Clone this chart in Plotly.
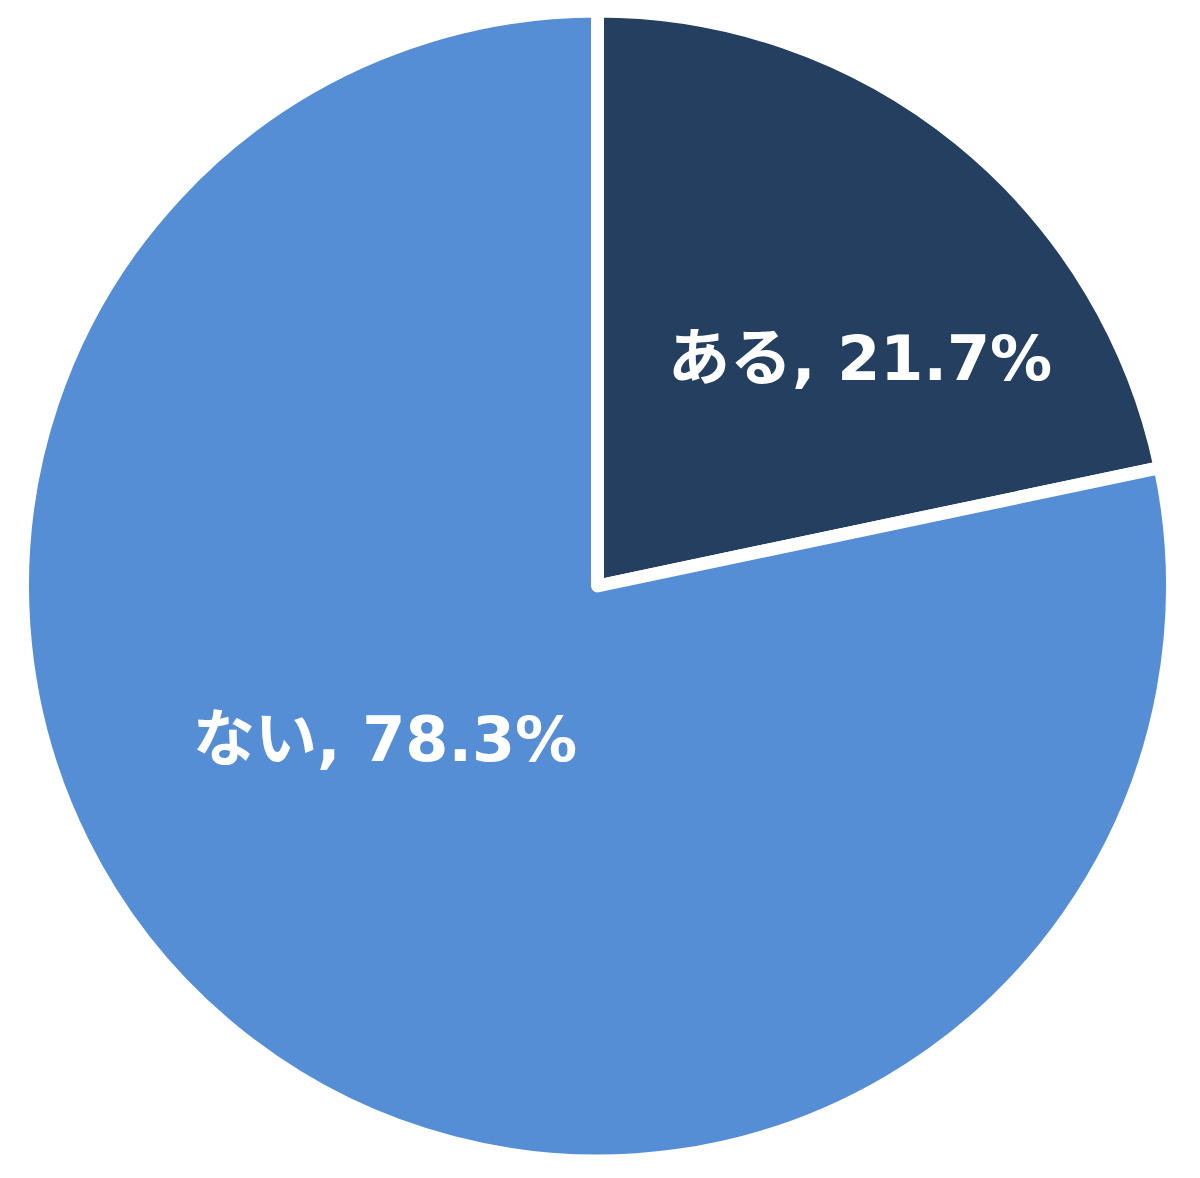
import plotly.graph_objects as go

labels = ["ある", "ない"]
values = [21.7, 78.3]
colors = ["#243F60", "#558ED5"]
label_xy = [(0.7167, 0.696), (0.3208, 0.372)]

fig = go.Figure(go.Pie(
    labels=labels,
    values=values,
    sort=False,
    direction="clockwise",
    rotation=0,
    domain=dict(x=[0.01875, 0.97708], y=[0.0144, 0.9907]),
    marker=dict(colors=colors, line=dict(color="white", width=13)),
    textinfo="none",
    hoverinfo="label+percent",
    showlegend=False,
))

for lab, val, (x, y) in zip(labels, values, label_xy):
    fig.add_annotation(
        x=x, y=y, xref="paper", yref="paper",
        xanchor="center", yanchor="middle",
        text=f"<b>{lab}, {val:.1f}%</b>",
        showarrow=False,
        font=dict(family="DejaVu Sans, Noto Sans CJK JP", size=62, color="white"),
    )

fig.update_layout(
    width=1200, height=1178,
    margin=dict(l=0, r=0, t=0, b=0),
    paper_bgcolor="white",
    plot_bgcolor="white",
)

fig.write_html("out.html", config={"displayModeBar": False},
               post_script="document.body.style.margin='0';")
